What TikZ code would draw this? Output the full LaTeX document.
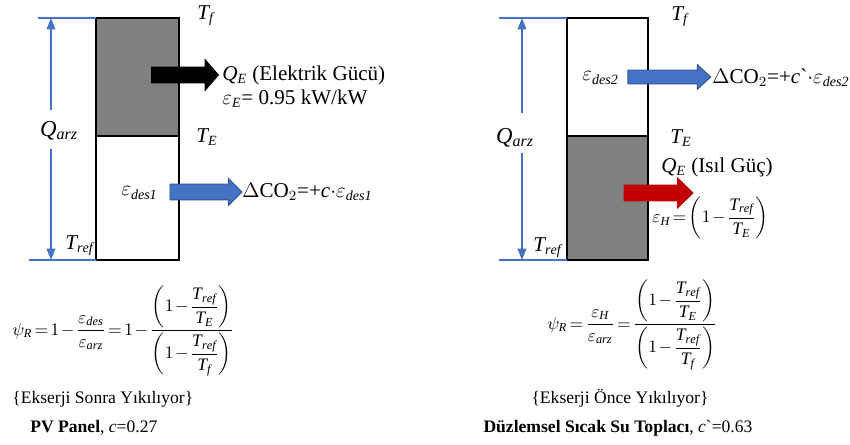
\documentclass[tikz,border=0pt]{standalone}
\usepackage{amsmath}
\usepackage{fontspec}
\setmainfont{Liberation Serif}
\usetikzlibrary{arrows.meta,shapes.arrows}
\definecolor{dimblue}{HTML}{4472C4}
\definecolor{edgeblue}{HTML}{2F528F}
\definecolor{heatred}{HTML}{C00000}
\definecolor{cellgray}{HTML}{808080}
\newcommand{\tratio}[1]{\left(1-\dfrac{\mathit{T}_{\mathit{ref}}}{\mathit{T}_{#1}}\right)}
\newcommand{\tightmath}{\medmuskip=1.5mu\relax\thickmuskip=2.5mu\relax}
\begin{document}
\begin{tikzpicture}[
    x=0.02cm, y=-0.02cm,
    lbl/.style={inner sep=0pt, anchor=west, font=\fontsize{12}{14}\selectfont},
    qlbl/.style={inner sep=0pt, font=\fontsize{13}{15}\selectfont},
    note/.style={inner sep=0pt, font=\fontsize{10}{12}\selectfont},
    eqn/.style={inner sep=0pt, anchor=west, font=\fontsize{10}{12}\selectfont},
    frame/.style={draw=black, line width=0.9pt},
    dimline/.style={draw=dimblue, line width=0.6pt},
    dimarrow/.style={dimline, -{Triangle[length=6.5pt, width=5pt]}},
    flow/.style={single arrow, inner xsep=0pt, draw=edgeblue, line width=0.5pt, fill=dimblue}
]
  \useasboundingbox (0,0) rectangle (850,445);
  % left column: PV panel
  \draw[frame, fill=cellgray] (96,18) rectangle (179,136);
  \draw[frame, fill=white] (96,136) rectangle (179,260);
  \draw[dimline] (38,18) -- (96,18);
  \draw[dimline] (29,260) -- (96,260);
  \node[qlbl] (qarzL) at (59,131) {$\mathit{Q}_{\mathit{arz}}$};
  \coordinate (qtopL) at (51,110);
  \coordinate (qbotL) at (51,149);
  \coordinate (endtopL) at (51,18);
  \coordinate (endbotL) at (51,260);
  \draw[dimarrow] (qtopL) -- (endtopL);
  \draw[dimarrow] (qbotL) -- (endbotL);
  \node[lbl] (tfL) at (197,16) {$\mathit{T}_{\mathit{f}}$};
  \node[lbl] (teL) at (196,137) {$\mathit{T}_{\mathit{E}}$};
  \node[lbl] (trefL) at (65,246) {$\mathit{T}_{\mathit{ref}}$};
  \node[flow, draw=black, fill=black, minimum height=1.34cm, inner ysep=0.15cm,
        single arrow head extend=0.15cm, single arrow tip angle=98] (elecL) at (181.5,75) {};
  \node[lbl] (qeL) at (222,75) {$\mathit{Q}_{\mathit{E}}$ (Elektrik Gücü)};
  \node[lbl] (epsE) at (222,99) {$\varepsilon_{\mathit{E}}$= 0.95 kW/kW};
  \node[lbl] (desL) at (121,193) {$\varepsilon_{\mathit{des1}}$};
  \node[flow, minimum height=1.44cm, inner ysep=0.15cm,
        single arrow head extend=0.11cm, single arrow tip angle=90] (co2arrL) at (202,192) {};
  \node[lbl] (co2L) at (242,192) {$\Delta$CO$_2$=+$\mathit{c}{\cdot}\varepsilon_{\mathit{des1}}$};
  \node[eqn] (psiL) at (12,331) {$\tightmath\displaystyle \psi_{\mathit{R}}=1-\frac{\varepsilon_{\mathit{des}}}{\varepsilon_{\mathit{arz}}}
      =1-\frac{\tratio{\mathit{E}}}{\tratio{\mathit{f}}}$};
  \node[note, anchor=west] (ruleL) at (12,399) {\{Ekserji Sonra Yıkılıyor\}};
  \node[note, anchor=west] (nameL) at (30,428) {\textbf{PV Panel}, \textit{c}=0.27};
  % right column: flat plate collector
  \draw[frame, fill=white] (567,18) rectangle (648,136);
  \draw[frame, fill=cellgray] (567,136) rectangle (648,260);
  \draw[dimline] (499,18) -- (567,18);
  \draw[dimline] (499,260) -- (567,260);
  \node[qlbl] (qarzR) at (515,138) {$\mathit{Q}_{\mathit{arz}}$};
  \coordinate (qtopR) at (522,113);
  \coordinate (qbotR) at (522,153);
  \coordinate (endtopR) at (522,18);
  \coordinate (endbotR) at (522,260);
  \draw[dimarrow] (qtopR) -- (endtopR);
  \draw[dimarrow] (qbotR) -- (endbotR);
  \node[lbl] (tfR) at (671,17) {$\mathit{T}_{\mathit{f}}$};
  \node[lbl] (teR) at (670,138) {$\mathit{T}_{\mathit{E}}$};
  \node[lbl] (trefR) at (533,248) {$\mathit{T}_{\mathit{ref}}$};
  \node[lbl] (desR) at (582,78) {$\varepsilon_{\mathit{des2}}$};
  \node[flow, minimum height=1.66cm, inner ysep=0.13cm,
        single arrow head extend=0.11cm, single arrow tip angle=85] (co2arrR) at (665.5,77) {};
  \node[lbl] (co2R) at (712,78) {$\Delta$CO$_2$=+\textit{c}\textasciigrave$\cdot\varepsilon_{\mathit{des2}}$};
  \node[lbl] (qeR) at (661,167) {$\mathit{Q}_{\mathit{E}}$ (Isıl Güç)};
  \node[flow, draw=heatred, fill=heatred, minimum height=1.38cm, inner ysep=0.15cm,
        single arrow head extend=0.14cm, single arrow tip angle=88] (heatR) at (654.5,193) {};
  \node[lbl, font=\fontsize{10}{12}\selectfont] (epsH) at (652,218)
      {$\tightmath\displaystyle \varepsilon_{\mathit{H}}=\left(1-\frac{\mathit{T}_{\mathit{ref}}}{\mathit{T}_{\mathit{E}}}\right)$};
  \node[eqn] (psiR) at (547,325) {$\tightmath\displaystyle \psi_{\mathit{R}}=\frac{\varepsilon_{\mathit{H}}}{\varepsilon_{\mathit{arz}}}
      =\frac{\tratio{\mathit{E}}}{\tratio{\mathit{f}}}$};
  \node[note] (ruleR) at (620,398) {\{Ekserji Önce Yıkılıyor\}};
  \node[note] (nameR) at (618,428) {\textbf{Düzlemsel Sıcak Su Toplacı}, \textit{c}\textasciigrave=0.63};
\end{tikzpicture}
\end{document}
